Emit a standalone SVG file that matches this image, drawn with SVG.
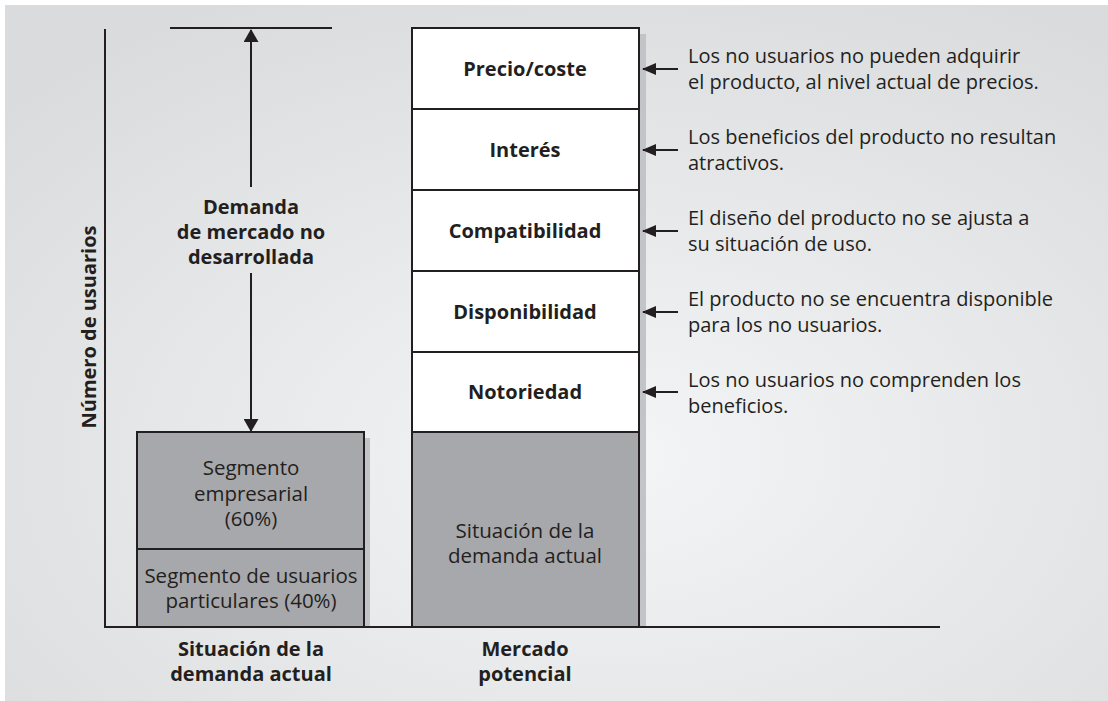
<svg xmlns="http://www.w3.org/2000/svg" width="1108" height="701" viewBox="0 0 1108 701">
<defs>
<radialGradient id="bg" cx="0.55" cy="0.65" r="0.75">
<stop offset="0" stop-color="#f4f5f6"/>
<stop offset="1" stop-color="#dadbdd"/>
</radialGradient>
<marker id="ah" viewBox="0 0 13 15" refX="12" refY="7.5" markerWidth="13" markerHeight="15" markerUnits="userSpaceOnUse" orient="auto">
<path d="M0,0 L13,7.5 L0,15 Z" fill="#231f20"/>
</marker>
<marker id="ahs" viewBox="0 0 14 12" refX="13" refY="6" markerWidth="14" markerHeight="12" markerUnits="userSpaceOnUse" orient="auto">
<path d="M0,0 L14,6 L0,12 Z" fill="#231f20"/>
</marker>
<style>
.t{font-family:"Open Sans","Noto Sans","Liberation Sans",sans-serif;font-size:20px;fill:#231f20}
.s{font-size:20.5px}
.b{font-weight:bold}
.c{text-anchor:middle}
.ln{stroke:#231f20;stroke-width:2;fill:none}
.w{fill:#ffffff;stroke:#231f20;stroke-width:2}
.g{fill:#a7a8ab;stroke:#231f20;stroke-width:2}
.sh{fill:#c3c4c7}
</style>
</defs>
<rect x="0" y="0" width="1108" height="701" fill="#ffffff"/>
<rect x="5" y="5" width="1103" height="696" fill="url(#bg)"/>

<g id="axes">
<line class="ln" x1="105" y1="29" x2="105" y2="628"/>
<line class="ln" x1="104" y1="627" x2="940" y2="627"/>
<text class="t b c" transform="translate(96,327) rotate(-90)">Número de usuarios</text>
</g>

<g id="demanda-no-desarrollada">
<line class="ln" x1="170" y1="28" x2="332" y2="28"/>
<text class="t b c" x="251" y="214">Demanda</text>
<text class="t b c" x="251" y="239">de mercado no</text>
<text class="t b c" x="251" y="264">desarrollada</text>
</g>

<g id="situacion-actual">
<rect class="sh" x="364" y="438" width="6" height="188"/>
<rect class="g" x="137" y="432" width="227" height="195"/>
<line class="ln" x1="137" y1="549" x2="364" y2="549"/>
<text class="t s c" x="251" y="475">Segmento</text>
<text class="t s c" x="251" y="501">empresarial</text>
<text class="t s c" x="251" y="526">(60%)</text>
<text class="t s c" x="251" y="583">Segmento de usuarios</text>
<text class="t s c" x="251" y="608">particulares (40%)</text>
<text class="t b c" x="251" y="656">Situación de la</text>
<text class="t b c" x="251" y="681">demanda actual</text>
</g>

<g id="mercado-potencial">
<rect class="sh" x="639" y="34" width="7" height="592"/>
<rect class="w" x="412" y="28" width="227" height="404"/>
<line class="ln" x1="412" y1="109" x2="639" y2="109"/>
<line class="ln" x1="412" y1="190" x2="639" y2="190"/>
<line class="ln" x1="412" y1="271" x2="639" y2="271"/>
<line class="ln" x1="412" y1="352" x2="639" y2="352"/>
<rect class="g" x="412" y="432" width="227" height="195"/>
<text class="t b c" x="525" y="76">Precio/coste</text>
<text class="t b c" x="525" y="157">Interés</text>
<text class="t b c" x="525" y="238">Compatibilidad</text>
<text class="t b c" x="525" y="319">Disponibilidad</text>
<text class="t b c" x="525" y="399">Notoriedad</text>
<text class="t s c" x="525" y="538">Situación de la</text>
<text class="t s c" x="525" y="563">demanda actual</text>
<text class="t b c" x="525" y="656">Mercado</text>
<text class="t b c" x="525" y="681">potencial</text>
</g>

<g id="razones">
<text class="t" x="688" y="63">Los no usuarios no pueden adquirir</text>
<text class="t" x="688" y="89">el producto, al nivel actual de precios.</text>
<text class="t" x="688" y="144">Los beneficios del producto no resultan</text>
<text class="t" x="688" y="170">atractivos.</text>
<text class="t" x="688" y="225">El diseño del producto no se ajusta a</text>
<text class="t" x="688" y="251">su situación de uso.</text>
<text class="t" x="688" y="306">El producto no se encuentra disponible</text>
<text class="t" x="688" y="332">para los no usuarios.</text>
<text class="t" x="688" y="387">Los no usuarios no comprenden los</text>
<text class="t" x="688" y="413">beneficios.</text>
</g>

<g id="connectors">
<line class="ln" x1="251" y1="187" x2="251" y2="30" marker-end="url(#ah)"/>
<line class="ln" x1="251" y1="273" x2="251" y2="431" marker-end="url(#ah)"/>
<line class="ln" x1="678" y1="69" x2="643" y2="69" marker-end="url(#ahs)"/>
<line class="ln" x1="678" y1="150" x2="643" y2="150" marker-end="url(#ahs)"/>
<line class="ln" x1="678" y1="231" x2="643" y2="231" marker-end="url(#ahs)"/>
<line class="ln" x1="678" y1="312" x2="643" y2="312" marker-end="url(#ahs)"/>
<line class="ln" x1="678" y1="392" x2="643" y2="392" marker-end="url(#ahs)"/>
</g>
</svg>
